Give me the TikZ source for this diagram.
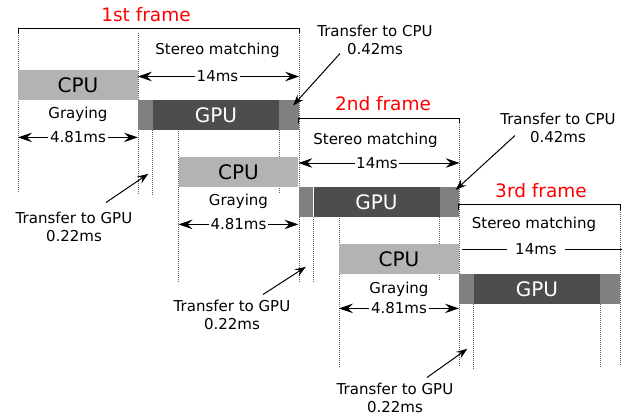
\documentclass[tikz,border=0pt]{standalone}
\usepackage{fontspec}
\setmainfont{DejaVu Sans}
\usetikzlibrary{
  arrows.meta,
  positioning,
  calc,
  backgrounds
}
\definecolor{cpu_gray}{RGB}{179, 179, 179}
\definecolor{gpu_dark}{RGB}{77, 77, 77}
\definecolor{xfer_gray}{RGB}{128, 128, 128}
\definecolor{frame_red}{RGB}{255, 0, 0}
\definecolor{guide_gray}{RGB}{95, 95, 95}

\begin{document}
\begin{tikzpicture}[
    x=1pt, y=-1pt,
    font=\fontsize{15}{18}\selectfont,
    >={Stealth[length=14pt,width=9.5pt,inset=5pt]},
    node distance=0pt,
    % Styles
    unit_base/.style={
        rectangle, inner sep=0pt, minimum height=29.5pt
    },
    cpu_unit/.style={
        unit_base, fill=cpu_gray, minimum width=119.5pt, font=\fontsize{20}{24}\selectfont
    },
    gpu_unit/.style={
        unit_base, fill=gpu_dark, text=white, minimum width=126pt, font=\fontsize{20}{24}\selectfont
    },
    xfer_in/.style={unit_base, fill=xfer_gray, minimum width=14.5pt},
    xfer_out/.style={unit_base, fill=xfer_gray, minimum width=19.5pt},
    frame_label/.style={text=frame_red, inner sep=0pt, font=\fontsize{18.5}{22}\selectfont},
    task_label/.style={inner sep=1pt},
    dim_label/.style={inner sep=1.5pt},
    note_label/.style={align=center, inner sep=3pt},
    guide/.style={draw=guide_gray, line width=0.8pt, dash pattern=on 1pt off 1pt},
    bracket/.style={draw=black, line width=1pt},
    dim_line/.style={line width=1pt},
    pointer/.style={-{Stealth[length=11pt,width=8pt,inset=4pt]}, line width=1pt}
]
\useasboundingbox (0,0) rectangle (630,416);

% 1. FIRST FRAME
\node[cpu_unit, anchor=north west] (cpuA) at (18,70) {CPU};
\node[xfer_in, anchor=north west] (xinA) at (cpuA.south east) {};
\node[gpu_unit, right=of xinA] (gpuA) {GPU};
\node[xfer_out, right=of gpuA] (xoutA) {};

\node[frame_label] (frameA) at (146,15) {1st frame};
\node[task_label, below=6pt of cpuA] (grayA) {Graying};
\node[task_label] (stereoA) at (217.5,50) {Stereo matching};
\node[dim_label] (gpuTimeA) at (217.5,76.5) {14ms};
\node[dim_label] (cpuTimeA) at ($(cpuA.south)+(0,37.5)$) {4.81ms};

% 2. SECOND FRAME
\node[cpu_unit, anchor=north west] (cpuB) at (178.5,157) {CPU};
\node[xfer_in, anchor=north west] (xinB) at (cpuB.south east) {};
\node[gpu_unit, right=of xinB] (gpuB) {GPU};
\node[xfer_out, right=of gpuB] (xoutB) {};

\node[frame_label] (frameB) at (383,104) {2nd frame};
\node[task_label, below=6pt of cpuB] (grayB) {Graying};
\node[task_label] (stereoB) at (375.5,140) {Stereo matching};
\node[dim_label] (gpuTimeB) at (377,163) {14ms};
\node[dim_label] (cpuTimeB) at ($(cpuB.south)+(0,37.5)$) {4.81ms};

% 3. THIRD FRAME
\node[cpu_unit, anchor=north west] (cpuC) at (339,244) {CPU};
\node[xfer_in, anchor=north west] (xinC) at (cpuC.south east) {};
\node[gpu_unit, right=of xinC] (gpuC) {GPU};
\node[xfer_out, right=of gpuC] (xoutC) {};

\node[frame_label] (frameC) at (541,191) {3rd frame};
\node[task_label, below=7pt of cpuC] (grayC) {Graying};
\node[task_label] (stereoC) at (534,224) {Stereo matching};
\node[dim_label, inner sep=8.5pt] (gpuTimeC) at (536,249) {14ms};
\node[dim_label] (cpuTimeC) at ($(cpuC.south)+(0,34.5)$) {4.81ms};

% Transfer notes
\node[note_label] (toCpuA) at (375,39.5) {Transfer to CPU\\0.42ms};
\node[note_label] (toCpuB) at (558,127.5) {Transfer to CPU\\0.42ms};
\node[note_label] (toGpuA) at (74,226.5) {Transfer to GPU\\0.22ms};
\node[note_label] (toGpuB) at (232,314.5) {Transfer to GPU\\0.22ms};
\node[note_label] (toGpuC) at (395,397.5) {Transfer to GPU\\0.22ms};

% --- Brackets ---
\draw[bracket] ([yshift=37pt]cpuA.north west) -- ++(0,-5) -| ([yshift=66.5pt]xoutA.north east);
\draw[bracket] ([yshift=63.5pt]xinB.north west) -- ++(0,-5) -| ([yshift=63.5pt]xoutB.north east);
\draw[bracket] ([yshift=64pt]xinC.north west) -- ++(0,-5) -| ([yshift=64pt]xoutC.north east);

% --- Durations ---
\draw[dim_line, ->] (gpuTimeA) -- (gpuTimeA -| xinA.west);
\draw[dim_line, ->] (gpuTimeA) -- (gpuTimeA -| xoutA.east);
\draw[dim_line, ->] (cpuTimeA) -- (cpuTimeA -| cpuA.west);
\draw[dim_line, ->] (cpuTimeA) -- (cpuTimeA -| cpuA.east);

\draw[dim_line, ->] (gpuTimeB) -- (gpuTimeB -| xinB.west);
\draw[dim_line, ->] (gpuTimeB) -- (gpuTimeB -| xoutB.east);
\draw[dim_line, ->] (cpuTimeB) -- (cpuTimeB -| cpuB.west);
\draw[dim_line, ->] (cpuTimeB) -- (cpuTimeB -| cpuB.east);

\draw[dim_line] (gpuTimeC) -- ([xshift=3pt]gpuTimeC -| xinC.west);
\draw[dim_line] (gpuTimeC) -- ([xshift=2pt]gpuTimeC -| xoutC.east);
\draw[dim_line, ->] (cpuTimeC) -- (cpuTimeC -| cpuC.west);
\draw[dim_line, ->] (cpuTimeC) -- (cpuTimeC -| cpuC.east);

% --- Pointers ---
\draw[pointer] ([xshift=-35pt,yshift=4pt]toCpuA.south) -- ([xshift=4pt,yshift=-5.5pt]xoutA.north);
\draw[pointer] ([xshift=-43pt,yshift=10pt]toCpuB.south) -- ([xshift=6pt,yshift=-3pt]xoutB.north);
\draw[pointer] ([xshift=32pt,yshift=6pt]toGpuA.north) -- ([xshift=3pt,yshift=-44pt]xinA.south);
\draw[pointer] ([xshift=31pt,yshift=2pt]toGpuB.north) -- ([yshift=-50pt]xinB.south);
\draw[pointer] ([xshift=32pt,yshift=2pt]toGpuC.north) -- ([xshift=1pt,yshift=-45pt]xinC.south);

% Guide lines
\begin{scope}[on background layer]
    \draw[guide] ([yshift=37pt]cpuA.north west) -- ++(0,160);
    \draw[guide] ([yshift=37pt]cpuA.north east) -- ++(0,162);
    \draw[guide] (xinA.south east) -- ++(0,66);
    \draw[guide] (xoutA.south west) -- ++(0,64);
    \draw[guide] ([yshift=66.5pt]xoutA.north east) -- ++(0,249);

    \draw[guide] ([yshift=28pt]cpuB.north west) -- ++(0,153);
    \draw[guide] (xinB.south east) -- ++(0,66);
    \draw[guide] (xoutB.south west) -- ++(0,64);
    \draw[guide] ([yshift=63.5pt]xoutB.north east) -- ++(0,244);

    \draw[guide] ([yshift=28pt]cpuC.north west) -- ++(0,151);
    \draw[guide] (xinC.south east) -- ++(0,66);
    \draw[guide] (xoutC.south west) -- ++(0,63);
    \draw[guide] ([yshift=64pt]xoutC.north east) -- ++(0,156);
\end{scope}

\end{tikzpicture}
\end{document}
